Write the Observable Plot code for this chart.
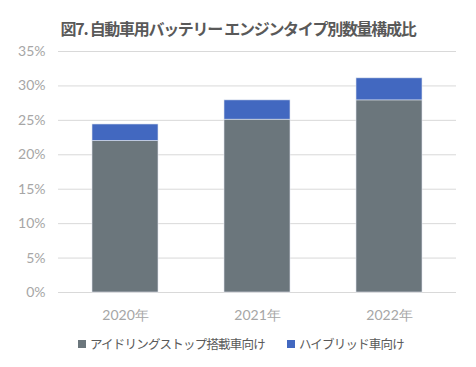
<!DOCTYPE html>
<html><head><meta charset="utf-8">
<script src="https://cdn.jsdelivr.net/npm/d3@7"></script>
<script src="https://cdn.jsdelivr.net/npm/@observablehq/plot@0.6"></script>
<style>
body{margin:0;background:#fff;width:476px;height:367px;overflow:hidden;font-family:Lato,"Noto Sans CJK JP",sans-serif;}
#title{height:40px;box-sizing:border-box;padding-top:17px;text-align:center;font-family:"Noto Sans CJK JP",sans-serif;font-weight:bold;font-size:16px;color:#595959;line-height:22px;letter-spacing:-1.3px;}
#legend{display:flex;justify-content:center;gap:22px;font-family:"Noto Sans CJK JP",sans-serif;font-size:12.5px;color:#595959;margin-top:4px;padding-left:6px;letter-spacing:-0.8px;}
#legend span{display:flex;align-items:center;}
#legend i{display:inline-block;width:8px;height:8px;margin-right:4px;}
</style></head>
<body>
<div id="title">図7. 自動車用バッテリー エンジンタイプ別数量構成比</div>
<div id="chart"></div>
<div id="legend"></div>
<script>
const years = ["2020年", "2021年", "2022年"];
const idleStop = [22.0, 25.1, 27.9];
const hybrid = [2.4, 2.8, 3.2];
const seriesNames = ["アイドリングストップ搭載車向け", "ハイブリッド車向け"];
const seriesColors = ["#6B767C", "#4268C0"];
const yTicks = [0, 5, 10, 15, 20, 25, 30, 35];

const rows = [];
years.forEach((y, i) => {
  rows.push({year: y, series: seriesNames[0], value: idleStop[i]});
  rows.push({year: y, series: seriesNames[1], value: hybrid[i]});
});

const chart = Plot.plot({
  width: 476,
  height: 290,
  marginTop: 11,
  marginBottom: 38,
  marginLeft: 58,
  marginRight: 20,
  style: {fontFamily: "Lato, sans-serif", fontSize: "14px", color: "#a6a6a6", background: "#fff"},
  x: {domain: years, paddingInner: 0.5, paddingOuter: 0.25, label: null, tickSize: 0, tickPadding: 18},
  y: {domain: [0, 35], ticks: yTicks, tickFormat: d => d + "%", label: null, tickSize: 0, tickPadding: 13, grid: false},
  color: {domain: seriesNames, range: seriesColors},
  marks: [
    Plot.ruleY(yTicks, {stroke: "#d9d9d9", strokeWidth: 1}),
    Plot.barY(rows, Plot.stackY({x: "year", y: "value", fill: "series", order: seriesNames, stroke: "#dfe5ee", strokeWidth: 0.6, inset: 0}))
  ]
});
document.getElementById("chart").appendChild(chart);

const leg = document.getElementById("legend");
seriesNames.forEach((n, i) => {
  const s = document.createElement("span");
  const b = document.createElement("i");
  b.style.background = seriesColors[i];
  s.appendChild(b);
  s.appendChild(document.createTextNode(n));
  leg.appendChild(s);
});
</script>
</body></html>
